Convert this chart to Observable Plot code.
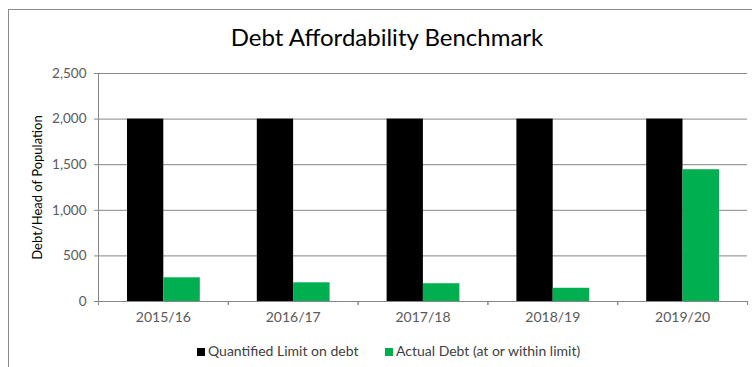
<!DOCTYPE html>
<html><head><meta charset="utf-8">
<script src="https://cdn.jsdelivr.net/npm/d3@7"></script>
<script src="https://cdn.jsdelivr.net/npm/@observablehq/plot@0.6"></script>
<style>
body{margin:0;background:#fff;font-family:Lato,"Open Sans",sans-serif;}
#wrap{position:relative;width:752px;height:367px;overflow:hidden;background:#fff;}
#border{position:absolute;left:8px;top:9px;width:800px;height:400px;border-left:1px solid #8c8c8c;border-top:1px solid #8c8c8c;}
#title{position:absolute;left:0;width:774px;top:22px;text-align:center;font-size:24px;line-height:30px;color:#000;}
#chart{position:absolute;left:0;top:0;}
.lg{position:absolute;top:343px;font-size:14px;line-height:16px;color:#404040;white-space:nowrap;}
.sw{display:inline-block;width:8px;height:8px;margin-right:3px;vertical-align:0px;}
</style></head>
<body>
<div id="wrap">
  <div id="border"></div>
  <div id="chart"></div>
  <div id="title">Debt Affordability Benchmark</div>
  <div id="legend"></div>
</div>
<script>
const years = ["2015/16", "2016/17", "2017/18", "2018/19", "2019/20"];
const limitValues = [2000, 2000, 2000, 2000, 2000];
const actualValues = [260, 205, 195, 145, 1445];
const yTicks = [0, 500, 1000, 1500, 2000, 2500];
const seriesNames = ["Quantified Limit on debt", "Actual Debt (at or within limit)"];
const seriesColors = ["#000000", "#00b050"];
const yLabel = "Debt/Head of Population";

const limitRows = years.map((y, i) => ({year: y, value: limitValues[i]}));
const actualRows = years.map((y, i) => ({year: y, value: actualValues[i]}));
const grey = "#868686";

const chart = Plot.plot({
  width: 752,
  height: 330,
  marginTop: 73,
  marginBottom: 29,
  marginLeft: 98,
  marginRight: 5,
  style: {fontFamily: "Lato, 'Open Sans', sans-serif", fontSize: "13px", color: "#595959", background: "transparent"},
  x: {domain: years, padding: 0, round: false, label: null},
  y: {domain: [0, 2500], label: null},
  marks: [
    Plot.gridY(yTicks, {stroke: grey, strokeOpacity: 1}),
    Plot.barY(limitRows, {x: "year", y: "value", fill: seriesColors[0], insetLeft: 29, insetRight: 64.5}),
    Plot.barY(actualRows, {x: "year", y: "value", fill: seriesColors[1], insetLeft: 65.3, insetRight: 28}),
    Plot.ruleY([0], {stroke: grey}),
    Plot.frame({anchor: "left", stroke: grey}),
    Plot.axisY({ticks: yTicks, tickFormat: d3.format(",d"), tickSize: 4, tickPadding: 8, stroke: grey, label: null, fill: "#595959", fontSize: 13.5}),
    Plot.axisX({tickSize: 0, tickPadding: 11, label: null, fill: "#595959", fontSize: 14}),
    Plot.axisX({tickSize: 4, tickFormat: () => "", label: null, stroke: grey, dx: -64.9}),
    Plot.axisX({tickSize: 4, tickFormat: () => "", label: null, stroke: grey, dx: 64.9}),
    Plot.text([yLabel], {text: d => d, frameAnchor: "left", textAnchor: "middle", rotate: -90, dx: -61, fill: "#000", fontSize: 13})
  ]
});
document.getElementById("chart").appendChild(chart);

const legend = document.getElementById("legend");
const lgLeft = [197, 385];
seriesNames.forEach((name, i) => {
  const d = document.createElement("div");
  d.className = "lg";
  d.style.left = lgLeft[i] + "px";
  d.innerHTML = `<span class="sw" style="background:${seriesColors[i]}"></span>${name}`;
  legend.appendChild(d);
});
</script>
</body></html>
